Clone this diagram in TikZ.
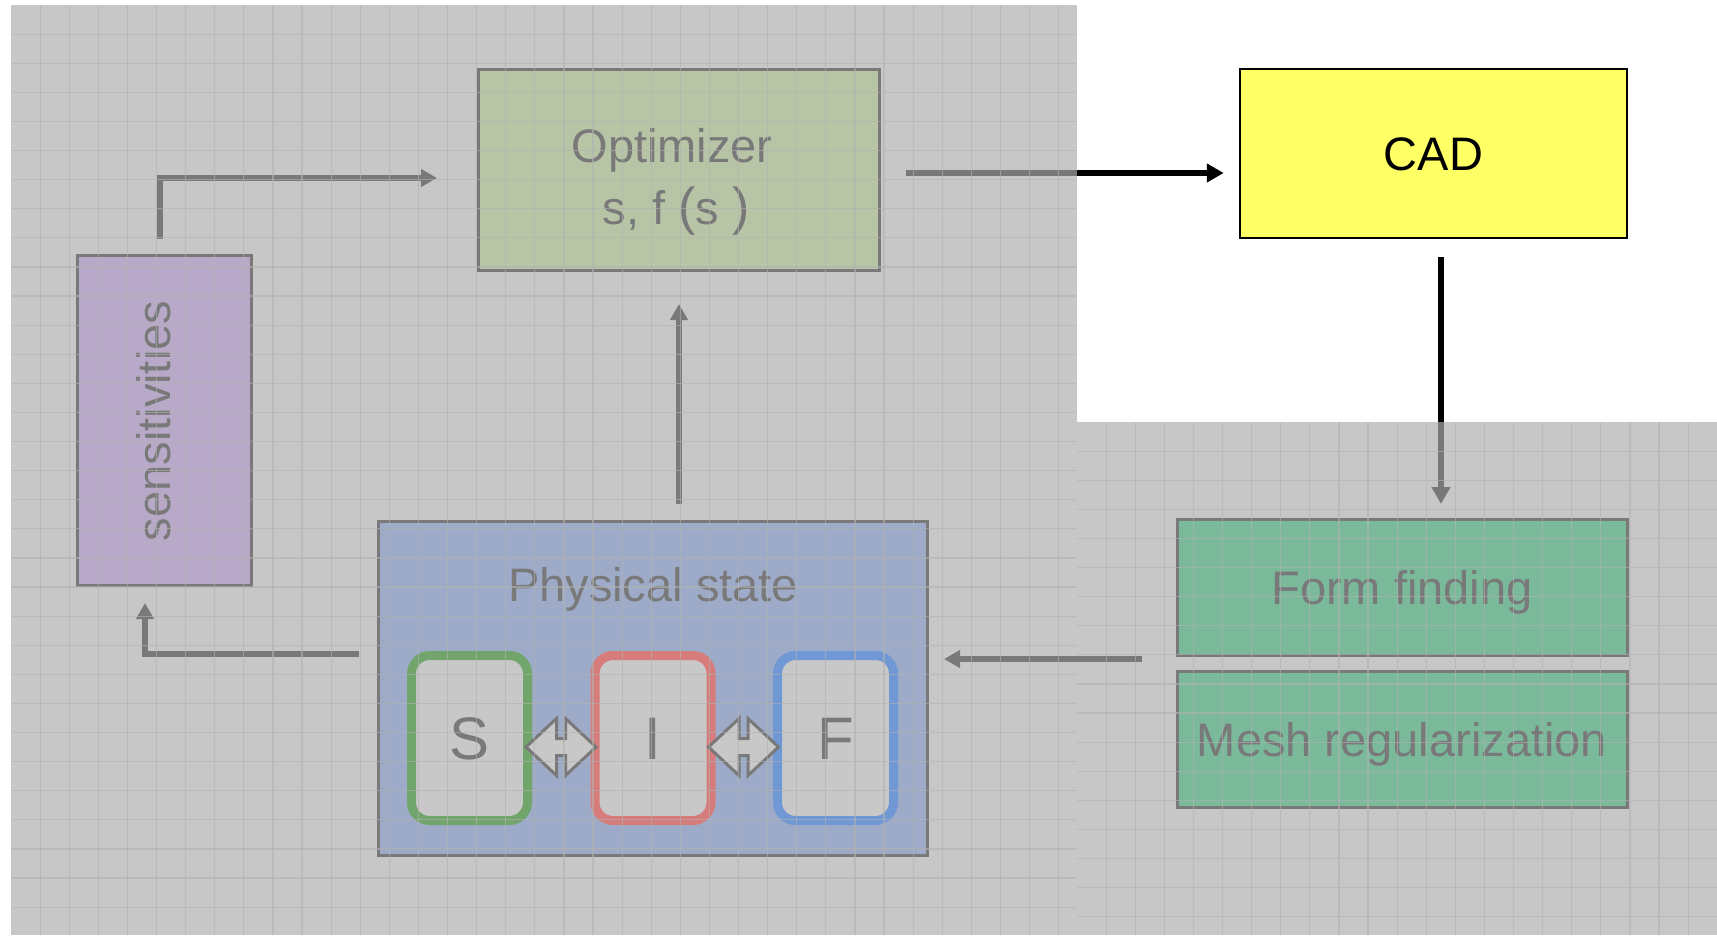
\documentclass[tikz,border=0pt]{standalone}
\usepackage{fontspec}
\setmainfont{Liberation Sans}
\usetikzlibrary{arrows.meta,calc}
\definecolor{veil}{HTML}{AFAFAF}
\definecolor{ink}{HTML}{797979}
\definecolor{optfill}{HTML}{B7C5A6}
\definecolor{sensfill}{HTML}{B8A9C8}
\definecolor{physfill}{HTML}{9DABC8}
\definecolor{formfill}{HTML}{7AB99A}
\definecolor{cadfill}{HTML}{FFFF66}
\definecolor{cellfill}{HTML}{C8C8C8}
\definecolor{sgreen}{HTML}{72A56C}
\definecolor{ired}{HTML}{D67C7A}
\definecolor{fblue}{HTML}{6F98D4}
\definecolor{gridc}{HTML}{B2B2B2}
\newcommand{\labfont}{\fontsize{47}{56}\selectfont}
\newcommand{\cellfont}{\fontsize{60}{66}\selectfont}
\pgfdeclarelayer{under}
\pgfdeclarelayer{veillayer}
\pgfdeclarelayer{toplayer}
\pgfsetlayers{under,veillayer,main,toplayer}
\begin{document}
\begin{tikzpicture}[x=1pt,y=-1pt,
  graybox/.style={draw=ink, line width=3pt, inner sep=0pt, outer sep=0pt, text=ink, font=\labfont, text height=34pt, text depth=0pt},
  cell/.style={line width=9pt, rounded corners=18pt, fill=cellfill, minimum width=116pt, minimum height=165pt, inner sep=0pt, outer sep=0pt, text=ink, font=\cellfont, text height=43pt, text depth=0pt},
  garrow/.style={draw=ink, line width=5.5pt, -{Triangle[length=16pt,width=17pt]}},
  barrow/.style={draw=black, line width=6pt, -{Triangle[length=17pt,width=18pt]}},
  gline/.style={draw=gridc, line width=1.2pt, opacity=0.6},
  dblarrow/.style={draw=ink, line width=3pt, fill=cellfill, line join=miter},
  lab/.style={text=ink, font=\labfont, inner sep=0pt, anchor=base}
]
\useasboundingbox (0,0) rectangle (1717,935);

% boxes
\node[graybox, fill=optfill, minimum width=401pt, minimum height=201pt] (opt) at (678.5,169.5) {};
\node[lab] (optA) at (672,162) {Optimizer};
\node[lab] (optB) at (676,224) {s, f {\fontsize{52}{56}\selectfont(}s {\fontsize{52}{56}\selectfont)}};

\node[graybox, fill=sensfill, minimum width=174pt, minimum height=330pt] (sens) at (164,420) {};
\node[lab, rotate=90] (sensT) at (170,421) {sensitivities};

\node[graybox, fill=physfill, minimum width=549pt, minimum height=334pt] (phys) at (652.5,688) {};
\node[lab] (physT) at (653,601) {Physical state};

\node[cell, draw=sgreen] (S) at (469.5,738) {S};
\node[cell, draw=ired] (I) at (653,738) {I};
\node[cell, draw=fblue] (F) at (835.5,738) {F};

\foreach \cx in {561,743.5}{
  \draw[dblarrow] (\cx-35,747) -- (\cx-4.5,718.5) -- (\cx-4.5,738.5) -- (\cx+4.5,738.5) -- (\cx+4.5,718.5)
    -- (\cx+35,747) -- (\cx+4.5,775.5) -- (\cx+4.5,755.5) -- (\cx-4.5,755.5) -- (\cx-4.5,775.5) -- cycle;
}

\node[draw=black, line width=2.5pt, fill=cadfill, minimum width=387pt, minimum height=169pt, inner sep=0pt,
  font=\labfont, text height=34pt, text depth=0pt] (cad) at (1433.5,153.5) {CAD};

\node[graybox, fill=formfill, minimum width=450pt, minimum height=136pt] (form) at (1402,587) {Form finding};
\node[graybox, fill=formfill, minimum width=450pt, minimum height=136pt] (mesh) at (1402,739) {Mesh regularization};

% gray connectors
\draw[garrow] ($(sens.north)+(-4,-16)$) |- ($(opt.west)+(-41,8.5)$);
\draw[garrow] ($(phys.north)+(26.5,-17)$) -- ($(opt.south)+(0.5,34)$);
\draw[garrow] ($(phys.west)+(-19,-34)$) -| ($(sens.south)+(-19,18)$);
\draw[garrow] ($(form.south west)+(-35,4)$) -- ($(phys.east)+(17,-29)$);

% black connectors under the veil
\begin{pgfonlayer}{under}
\fill[white] (0,0) rectangle (1717,935);
\draw[barrow] ($(opt.east)+(27,3.5)$) -- ($(cad.west)+(-15,19.5)$);
\draw[barrow, line width=5.5pt] ($(cad.south)+(7.5,18)$) -- ($(form.north)+(39,-15)$);
\end{pgfonlayer}

\begin{pgfonlayer}{veillayer}
\fill[veil, opacity=0.69] (11,5) rectangle (1077,935);
\fill[veil, opacity=0.69] (1077,422) rectangle (1717,935);
\end{pgfonlayer}

\begin{pgfonlayer}{toplayer}
\foreach \i in {1,...,36} \draw[gline] ({11+29.1*\i},5) -- ({11+29.1*\i},935);
\foreach \j in {1,...,31} \draw[gline] (11,{5+29.1*\j}) -- (1077,{5+29.1*\j});
\foreach \i in {1,...,21} \draw[gline] ({1077+29.1*\i},422) -- ({1077+29.1*\i},935);
\foreach \j in {1,...,17} \draw[gline] (1077,{422+29.1*\j}) -- (1717,{422+29.1*\j});
\end{pgfonlayer}
\end{tikzpicture}
\end{document}
